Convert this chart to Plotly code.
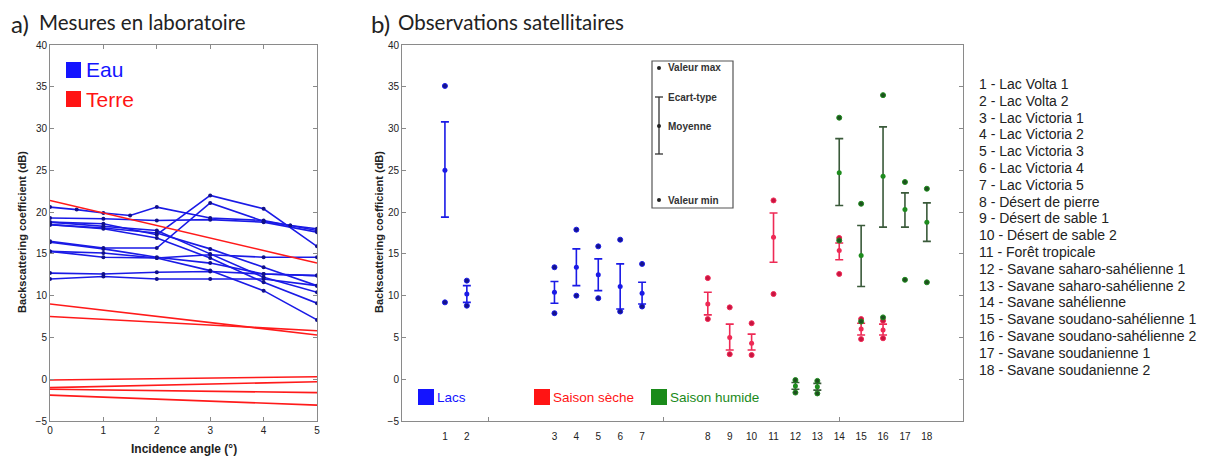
import plotly.graph_objects as go

W, H = 1206, 456
OFF = 8  # page body offset

# ---------------- Panel a) data ----------------
angles_full = [0, 1, 2, 3, 4, 5]
eau_x = [
    [0, 0.5, 1, 1.5, 2, 3, 4, 4.5, 5],
    [0, 1, 2, 3, 4, 5],
    [0, 1, 2, 3, 4, 5],
    [0, 1, 2, 3, 4, 4.5, 5],
    [0, 1, 2, 3, 4, 5],
    [0, 1, 2, 3, 4, 5],
    [0, 1, 2, 3, 4, 5],
    [0, 1, 2, 3, 4, 5],
    [0, 1, 2, 3, 4, 5],
    [0, 1, 2, 3, 4, 5],
    [0, 1, 2, 3, 4, 5],
    [0, 1, 2, 3, 4, 5],
]
eau_y = [
    [20.6, 20.3, 19.9, 19.6, 20.6, 19.3, 19.0, 18.4, 18.0],
    [19.3, 19.2, 19.0, 19.1, 18.8, 17.6],
    [18.8, 18.6, 17.3, 22.0, 20.4, 15.9],
    [16.5, 15.7, 15.7, 21.1, 18.9, 18.4, 17.8],
    [18.5, 18.1, 17.5, 15.6, 13.4, 11.2],
    [18.8, 18.3, 17.8, 15.0, 12.2, 10.4],
    [15.3, 14.6, 14.5, 14.9, 14.6, 14.6],
    [16.4, 15.6, 14.6, 13.9, 12.6, 12.4],
    [12.7, 12.6, 12.8, 12.9, 12.6, 12.4],
    [12.0, 12.3, 12.0, 12.0, 12.0, 11.2],
    [15.3, 15.1, 14.5, 13.0, 10.6, 7.1],
    [18.5, 18.0, 16.9, 14.5, 11.6, 9.1],
]
terre_x = [0, 5]
terre_y = [
    [21.4, 13.9],
    [9.0, 5.3],
    [7.5, 5.8],
    [-0.1, 0.3],
    [-1.0, -0.3],
    [-1.2, -1.6],
    [-1.9, -3.1],
]

# ---------------- Panel b) data ----------------
site_names = [
    "Lac Volta 1", "Lac Volta 2", "Lac Victoria 1", "Lac Victoria 2",
    "Lac Victoria 3", "Lac Victoria 4", "Lac Victoria 5", "Désert de pierre",
    "Désert de sable 1", "Désert de sable 2", "Forêt tropicale",
    "Savane saharo-sahélienne 1", "Savane saharo-sahélienne 2",
    "Savane sahélienne", "Savane soudano-sahélienne 1",
    "Savane soudano-sahélienne 2", "Savane soudanienne 1",
    "Savane soudanienne 2",
]

lacs_sites = [1, 2, 3, 4, 5, 6, 7]
lacs_mean = [25.0, 10.2, 10.4, 13.4, 12.5, 11.1, 10.3]
lacs_sd_hi = [30.8, 11.2, 11.7, 15.6, 14.4, 13.8, 11.6]
lacs_sd_lo = [19.4, 9.2, 9.1, 11.2, 10.6, 8.4, 9.0]
lacs_max = [35.1, 11.8, 13.4, 17.9, 15.9, 16.7, 13.8]
lacs_min = [9.2, 8.8, 7.9, 10.0, 9.7, 8.1, 8.7]

seche_sites = [8, 9, 10, 11, 14, 15, 16]
seche_mean = [9.0, 5.0, 4.3, 17.0, 15.4, 6.0, 5.9]
seche_sd_hi = [10.4, 6.6, 5.4, 19.9, 16.3, 6.7, 6.6]
seche_sd_lo = [7.7, 3.5, 3.5, 14.0, 14.3, 5.3, 5.3]
seche_max = [12.1, 8.6, 6.7, 21.4, 16.9, 7.2, 7.0]
seche_min = [7.2, 3.0, 2.9, 10.2, 12.6, 4.8, 4.9]

humide_sites = [12, 13, 14, 15, 16, 17, 18]
humide_mean = [-0.8, -0.9, 24.7, 14.8, 24.3, 20.3, 18.8]
humide_sd_hi = [-0.4, -0.5, 28.8, 18.4, 30.2, 22.3, 21.1]
humide_sd_lo = [-1.2, -1.3, 20.8, 11.1, 18.2, 18.2, 16.5]
humide_max = [-0.1, -0.2, 31.3, 21.0, 34.0, 23.6, 22.8]
humide_min = [-1.6, -1.7, 16.6, 6.9, 7.4, 11.9, 11.6]


def site_pos(s):
    # groups separated by gaps on the category axis
    if s <= 2:
        return s
    if s <= 7:
        return s + 3
    return s + 5


def px(x):
    return (x - OFF) / W


def py(y):
    return 1 - (y - OFF) / H


BLUE = "#1a1ae6"
RED = "#ff1a1a"
PINK = "#ee2a55"
GREEN = "#1e8c1e"
DARKG = "#3a5a3a"
FONT = "Liberation Sans, Arial, sans-serif"

fig = go.Figure()

# panel a
for xs, ys in zip(eau_x, eau_y):
    fig.add_trace(go.Scatter(x=xs, y=ys, mode="lines+markers",
                             line=dict(color=BLUE, width=1.6),
                             marker=dict(color="#10108a", size=4),
                             showlegend=False, xaxis="x", yaxis="y"))
for ys in terre_y:
    fig.add_trace(go.Scatter(x=terre_x, y=ys, mode="lines",
                             line=dict(color=RED, width=1.6),
                             showlegend=False, xaxis="x", yaxis="y"))

# panel b
groups = [
    (lacs_sites, lacs_mean, lacs_sd_hi, lacs_sd_lo, lacs_max, lacs_min, BLUE, BLUE, "#14148a"),
    (seche_sites, seche_mean, seche_sd_hi, seche_sd_lo, seche_max, seche_min, PINK, PINK, "#c81440"),
    (humide_sites, humide_mean, humide_sd_hi, humide_sd_lo, humide_max, humide_min, GREEN, DARKG, "#1f4f1f"),
]
for sites, mean, hi, lo, mx, mn, col, ecol, dcol in groups:
    xs = [site_pos(s) for s in sites]
    fig.add_trace(go.Scatter(
        x=xs, y=mean, mode="markers",
        marker=dict(color=col, size=5),
        error_y=dict(type="data", symmetric=False,
                     array=[h - m for h, m in zip(hi, mean)],
                     arrayminus=[m - l for m, l in zip(mean, lo)],
                     color=ecol, thickness=1.6, width=4),
        showlegend=False, xaxis="x2", yaxis="y2"))
    fig.add_trace(go.Scatter(x=xs + xs, y=mx + mn, mode="markers",
                             marker=dict(color=dcol, size=5, line=dict(color=col, width=1)),
                             showlegend=False, xaxis="x2", yaxis="y2"))

all_sites = list(range(1, 19))
axis_common = dict(showgrid=False, zeroline=False, showline=True, mirror="ticks",
                   linecolor="#8a8a8a", linewidth=1, ticks="inside", ticklen=4,
                   tickcolor="#8a8a8a", automargin=False,
                   tickfont=dict(family=FONT, size=10, color="#222"))

yd = [py(421), py(45)]
fig.update_layout(
    template="none",
    width=W, height=H, margin=dict(l=0, r=0, t=0, b=0, pad=0, autoexpand=False),
    paper_bgcolor="white", plot_bgcolor="white", showlegend=False,
    xaxis=dict(domain=[px(50), px(317)], range=[0, 5], tickvals=angles_full,
               **axis_common),
    yaxis=dict(domain=yd, range=[-5, 40], dtick=5, **axis_common),
    xaxis2=dict(domain=[px(402), px(963)], range=[-0.96, 24.65],
                tickvals=[site_pos(s) for s in all_sites],
                ticktext=[str(s) for s in all_sites],
                showgrid=False, zeroline=False, showline=True, mirror=True,
                linecolor="#8a8a8a", ticks="", ticklabelstandoff=6, automargin=False,
                tickfont=dict(family=FONT, size=10, color="#222"),
                minor=dict(tickmode="array", tickvals=[3, 11, 19], ticks="inside",
                           ticklen=4, tickcolor="#8a8a8a"),
                anchor="y2"),
    yaxis2=dict(domain=yd, range=[-5, 40], dtick=5, anchor="x2", **axis_common),
)

ann = []
shapes = []
TFONT = "Lato, DejaVu Sans"
# titles
for x0, x1, lab, txt in ((9, 37, "a)", "Mesures en laboratoire"),
                         (369, 396, "b)", "Observations satellitaires")):
    ann.append(dict(x=px(x0), y=py(23), xref="paper", yref="paper", xanchor="left",
                    yanchor="middle", showarrow=False, text=lab,
                    font=dict(family=TFONT, size=24, color="#222")))
    ann.append(dict(x=px(x1), y=py(22), xref="paper", yref="paper", xanchor="left",
                    yanchor="middle", showarrow=False, text=txt,
                    font=dict(family=TFONT, size=20.5, color="#222")))
# axis titles
for xp in (22, 379):
    ann.append(dict(x=px(xp), y=py(232), xref="paper", yref="paper", textangle=-90,
                    xanchor="center", yanchor="middle",
                    showarrow=False, text="<b>Backscattering coefficient (dB)</b>",
                    font=dict(family=FONT, size=11, color="#222")))
ann.append(dict(x=px(184), y=py(449), xref="paper", yref="paper", showarrow=False,
                xanchor="center", yanchor="middle",
                text="<b>Incidence angle (°)</b>", font=dict(family=FONT, size=12, color="#222")))

# panel a legend
for yy, txt, c in ((70, "Eau", "#1414ff"), (99, "Terre", "#ff1414")):
    shapes.append(dict(type="rect", xref="paper", yref="paper",
                       x0=px(66), x1=px(81), y0=py(yy + 8), y1=py(yy - 8),
                       fillcolor=c, line=dict(width=0)))
    ann.append(dict(x=px(84), y=py(yy), xref="paper", yref="paper", xanchor="left",
                    yanchor="middle", showarrow=False, text=txt,
                    font=dict(family=FONT, size=21, color=c)))

# panel b group legend
for xx, txt, c in ((426, "Lacs", "#1414ff"), (542, "Saison sèche", "#ff1414"),
                   (659, "Saison humide", "#1a8a1a")):
    shapes.append(dict(type="rect", xref="paper", yref="paper",
                       x0=px(xx - 8), x1=px(xx + 8), y0=py(397 + 8), y1=py(397 - 8),
                       fillcolor=c, line=dict(width=0)))
    ann.append(dict(x=px(xx + 9), y=py(397), xref="paper", yref="paper", xanchor="left",
                    yanchor="middle", showarrow=False, text=txt,
                    font=dict(family=FONT, size=13.5, color=c)))

# panel b statistics key
shapes.append(dict(type="rect", xref="paper", yref="paper", x0=px(652), x1=px(733),
                   y0=py(208), y1=py(61), line=dict(color="#555", width=1.2),
                   fillcolor="rgba(0,0,0,0)"))
kx = 659
shapes.append(dict(type="line", xref="paper", yref="paper", x0=px(kx), x1=px(kx),
                   y0=py(154), y1=py(97), line=dict(color="#333", width=1.3)))
for cy in (97, 154):
    shapes.append(dict(type="line", xref="paper", yref="paper", x0=px(kx - 4), x1=px(kx + 4),
                       y0=py(cy), y1=py(cy), line=dict(color="#333", width=1.3)))
for cy in (68, 126, 200):
    shapes.append(dict(type="circle", xref="paper", yref="paper", x0=px(kx - 2), x1=px(kx + 2),
                       y0=py(cy + 2), y1=py(cy - 2), fillcolor="#222", line=dict(width=0)))
for cy, txt in ((68, "Valeur max"), (97, "Ecart-type"), (126, "Moyenne"), (200, "Valeur min")):
    ann.append(dict(x=px(666), y=py(cy), xref="paper", yref="paper", xanchor="left",
                    yanchor="middle", showarrow=False, text="<b>" + txt + "</b>",
                    font=dict(family=FONT, size=10, color="#333")))

# site names list
for i, name in enumerate(site_names):
    ann.append(dict(x=px(977), y=py(84 + i * 16.8), xref="paper", yref="paper",
                    xanchor="left", yanchor="middle", showarrow=False,
                    text=f"{i + 1} - {name}",
                    font=dict(family=FONT, size=14, color="#222")))

fig.update_layout(annotations=ann, shapes=shapes)
fig.write_html("out.html")
